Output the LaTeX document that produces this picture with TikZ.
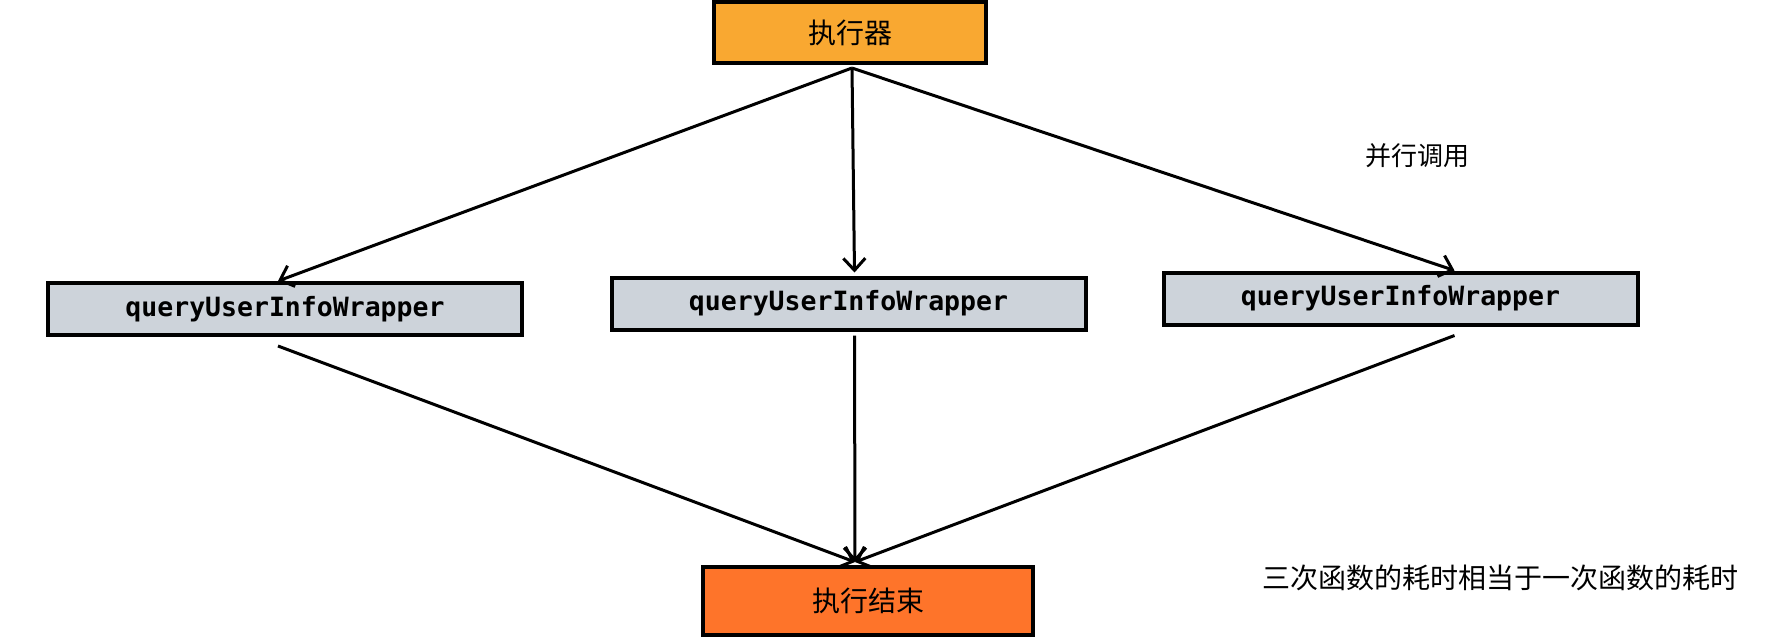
\documentclass[tikz,border=0pt]{standalone}
\usepackage{fontspec}
\newfontfamily\cjk{Noto Sans CJK SC}
\newfontfamily\monof{DejaVu Sans Mono}
\usetikzlibrary{arrows.meta,calc}
\definecolor{topc}{HTML}{F9A831}
\definecolor{endc}{HTML}{FE742A}
\definecolor{grayc}{HTML}{CDD3DA}
\tikzset{
  box/.style={draw=black, line width=4pt, rectangle, inner sep=0pt},
  fn/.style={box, fill=grayc, minimum width=474pt, minimum height=52pt, font=\monof\bfseries\fontsize{26.5}{30}\selectfont},
  cjkt/.style={font=\cjk\fontsize{28}{32}\selectfont},
  arr/.style={draw=black, line width=3pt, -{Straight Barb[length=12pt,width=22pt,line width=3pt]}},
}
\begin{document}
\begin{tikzpicture}[x=1pt,y=-1pt]
\useasboundingbox (0,0) rectangle (1777,638);
\node[box, fill=topc, minimum width=272pt, minimum height=61pt, cjkt] (top) at (850,32.5) {执行器};
\node[fn] (l) at (285,309) {queryUserInfoWrapper};
\node[fn] (m) at (848.5,303.5) {queryUserInfoWrapper};
\node[fn] (r) at (1400.5,298.5) {queryUserInfoWrapper};
\node[box, fill=endc, minimum width=330pt, minimum height=68pt, cjkt] (end) at (868,601) {执行结束};
\node[cjkt, font=\cjk\fontsize{26}{30}\selectfont] (par) at (1417,156) {并行调用};
\node[cjkt, font=\cjk\fontsize{28}{32}\selectfont] (note) at (1500,578) {三次函数的耗时相当于一次函数的耗时};
\coordinate (ts) at ($(top.south)+(2,3)$);
\coordinate (ein) at ($(end.north)+(-13,-3)$);
\draw[arr] (ts) -- ($(l.north)+(-7,0)$);
\draw[arr] (ts) -- ($(m.north)+(6,-3)$);
\draw[arr] (ts) -- ($(r.north)+(54,0)$);
\draw[arr] ($(l.south)+(-7,9)$) -- (ein);
\draw[arr] ($(m.south)+(6,4)$) -- (ein);
\draw[arr] ($(r.south)+(54,9)$) -- (ein);
\end{tikzpicture}
\end{document}
